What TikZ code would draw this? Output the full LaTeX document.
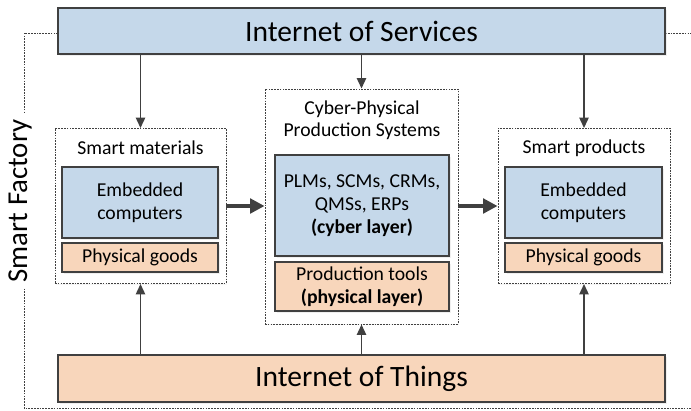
\documentclass[tikz,border=0pt]{standalone}
\usepackage{fontspec}
\setmainfont{Carlito}
\usepackage{xcolor}
\usepackage{tikz}
\usetikzlibrary{positioning, arrows.meta}
\usetikzlibrary{shadows}

\begin{document}
\begin{tikzpicture}[x=0.025cm, y=-0.025cm,
    box/.style={draw=linea, line width=1.3pt, align=center, inner sep=0pt,
        font=\fontsize{14}{16.5}\selectfont,
        drop shadow={shadow xshift=1.2pt, shadow yshift=-1.2pt, fill=black!12}},
    azzurro/.style={box, fill=cielo},
    pesca/.style={box, fill=sabbia},
    gruppo/.style={draw=linea, line width=0.6pt, dash pattern=on 1.2pt off 0.8pt,
        fill=white, inner sep=0pt,
        drop shadow={shadow xshift=1pt, shadow yshift=-1pt, fill=black!8}},
    titolo/.style={font=\fontsize{14}{16}\selectfont, align=center},
    freccia/.style={draw=linea, line width=1.3pt, -{Triangle[length=2.6mm, width=2.3mm]}},
    grossa/.style={draw=linea, line width=2.6pt, -{Triangle[length=3.6mm, width=3.6mm]}},
    cornice/.style={draw=linea, line width=0.6pt, dash pattern=on 1.2pt off 0.8pt}]
        % Definizione dei colori
        \definecolor{cielo}{RGB}{197,216,234}
        \definecolor{sabbia}{RGB}{248,214,187}
        \definecolor{linea}{RGB}{64,64,64}
        \useasboundingbox (0,0) rectangle (691,410);

        % Cornice della Smart Factory
        \draw[cornice] (58,33) -- (24,33) -- (24,408) -- (700,408);
        \draw[cornice] (665,33) -- (700,33);
        \node[fill=white, rotate=90, inner sep=4pt, font=\fontsize{20.5}{24}\selectfont] (factory) at (20,201) {Smart Factory};

        % Livelli di rete
        \node[azzurro, minimum width=15.175cm, minimum height=1.15cm, font=\fontsize{21}{24}\selectfont] (ios) at (361.5,31) {Internet of Services};
        \node[pesca, minimum width=15.175cm, minimum height=1.175cm, font=\fontsize{21}{24}\selectfont] (iot) at (361.5,378.5) {Internet of Things};

        % Smart materials
        \node[gruppo, minimum width=4.275cm, minimum height=3.875cm] (mat) at (140.5,206) {};
        \node[titolo] (matlab) at (140.5,148) {Smart materials};
        \node[azzurro, minimum width=3.9cm, minimum height=1.775cm] (matemb) at (140,202.5) {Embedded\\computers};
        \node[pesca, minimum width=3.9cm, minimum height=0.725cm] (matgoods) at (140,257.5) {Physical goods};

        % Cyber-Physical Production Systems
        \node[gruppo, minimum width=4.825cm, minimum height=5.875cm] (cpps) at (361.5,206.5) {};
        \node[titolo, font=\fontsize{14}{15.8}\selectfont] (cppslab) at (362,120) {Cyber-Physical\\Production Systems};
        \node[azzurro, minimum width=4.35cm, minimum height=2.525cm] (cyber) at (362,205.5) {PLMs, SCMs, CRMs,\\QMSs, ERPs\\\textbf{(cyber layer)}};
        \node[pesca, minimum width=4.35cm, minimum height=1.225cm] (tools) at (362,286.5) {Production tools\\\textbf{(physical layer)}};

        % Smart products
        \node[gruppo, minimum width=4.3cm, minimum height=3.875cm] (prod) at (584,206) {};
        \node[titolo] (prodlab) at (584,148) {Smart products};
        \node[azzurro, minimum width=3.925cm, minimum height=1.775cm] (prodemb) at (583.5,202.5) {Embedded\\computers};
        \node[pesca, minimum width=3.925cm, minimum height=0.725cm] (prodgoods) at (583.5,257.5) {Physical goods};

        % Frecce
        \draw[freccia] (mat.north |- ios.south) -- (mat.north);
        \draw[freccia] (cpps.north |- ios.south) -- (cpps.north);
        \draw[freccia] (prod.north |- ios.south) -- (prod.north);
        \draw[freccia] (mat.south |- iot.north) -- (mat.south);
        \draw[freccia] (cpps.south |- iot.north) -- (cpps.south);
        \draw[freccia] (prod.south |- iot.north) -- (prod.south);
        \draw[grossa] (mat.east) -- (cpps.west |- mat.east);
        \draw[grossa] (cpps.east |- prod.west) -- (prod.west);
    \end{tikzpicture}
\end{document}
